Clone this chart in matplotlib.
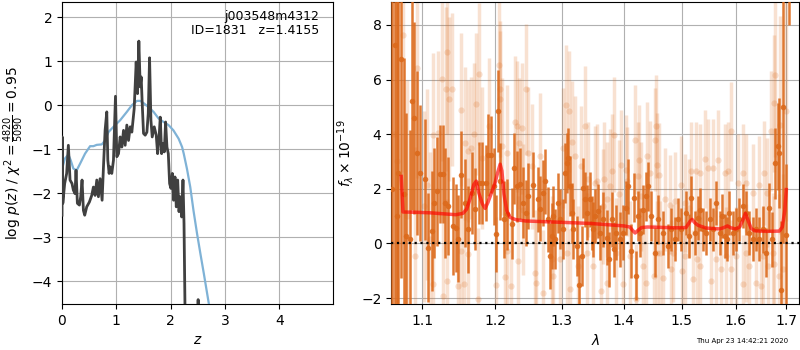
import numpy as np
import matplotlib
matplotlib.use("Agg")
import matplotlib.pyplot as plt
from matplotlib.ticker import NullLocator

# ---------------- left panel data: log p(z) ----------------
pz_z = [0.0, 0.005, 0.015, 0.049, 0.086, 0.117, 0.148, 0.184, 0.209, 0.24, 0.258,
        0.283, 0.32, 0.344, 0.369, 0.394, 0.418, 0.455, 0.504, 0.547, 0.578, 0.609,
        0.64, 0.67, 0.701, 0.738, 0.763, 0.793, 0.824, 0.843, 0.867, 0.886, 0.916,
        0.947, 0.984, 1.009, 1.04, 1.07, 1.101, 1.132, 1.162, 1.193, 1.224, 1.255,
        1.285, 1.328, 1.365, 1.39, 1.414, 1.439, 1.457, 1.476, 1.5, 1.531, 1.562,
        1.587, 1.611, 1.636, 1.66, 1.697, 1.734, 1.759, 1.783, 1.808, 1.833, 1.857,
        1.882, 1.906, 1.931, 1.956, 1.98, 2.005, 2.03, 2.054, 2.079, 2.103, 2.128,
        2.153, 2.177, 2.202, 2.226, 2.245, 2.263, 2.28, 2.40, 2.49, 2.505, 2.52]
pz_logp = [-2.5, -0.72, -2.23, -1.78, -1.55, -0.91, -1.70, -1.78, -1.93, -2.01, -1.48,
           -2.23, -2.27, -2.08, -1.70, -2.39, -2.50, -2.31, -2.20, -2.05, -1.86, -2.05,
           -1.70, -2.08, -1.67, -2.16, -1.40, -0.57, -0.15, -1.25, -1.55, -1.40, -1.55,
           -1.25, 0.205, -1.17, -1.10, -0.72, -0.95, -0.57, -0.91, -0.45, -0.80, -0.49,
           -0.61, -0.08, 0.985, 0.265, 1.46, 0.42, 0.645, 0.04, -0.64, -0.68, -0.61,
           -0.19, 1.08, -0.34, -0.72, -0.49, -0.68, -1.10, -0.80, -0.27, -1.10, -0.87,
           -1.06, -0.38, -0.95, -1.10, -1.78, -1.89, -1.55, -2.16, -1.63, -2.31, -1.70,
           -2.42, -2.08, -2.54, -1.70, -2.69, -4.6, -6.0, -7.0, -5.5, -4.42, -6.0]

prior_z = [0.0, 0.055, 0.117, 0.16, 0.209, 0.27, 0.332, 0.424, 0.517, 0.578, 0.64,
           0.732, 0.793, 0.855, 0.947, 1.07, 1.193, 1.285, 1.378, 1.44, 1.5, 1.59,
           1.685, 1.777, 1.87, 1.96, 2.05, 2.146, 2.21, 2.24, 2.30, 2.36, 2.42,
           2.485, 2.55, 2.61, 2.70, 2.80]
prior_logp = [-1.45, -1.21, -1.12, -1.25, -1.44, -1.48, -1.33, -1.10, -0.93, -0.93,
              -0.90, -0.89, -0.80, -0.61, -0.49, -0.34, -0.15, 0.0, 0.10, 0.10, 0.05,
              -0.04, -0.15, -0.30, -0.38, -0.45, -0.57, -0.76, -0.95, -1.10, -1.45,
              -1.86, -2.40, -2.92, -3.40, -3.83, -4.50, -5.20]

# ---------------- right panel data: spectrum ----------------
dark_wave = [1.0615, 1.0651, 1.0670, 1.0690, 1.0728, 1.0765, 1.0790, 1.0844, 1.0870,
             1.0896, 1.0930, 1.0974, 1.1039, 1.1080, 1.1128, 1.1160, 1.1190, 1.1239,
             1.1274, 1.1304, 1.1348, 1.1415, 1.1460, 1.1480, 1.1527, 1.1571, 1.1626,
             1.1676, 1.1721, 1.1767, 1.1822, 1.1868, 1.1904, 1.1938, 1.1984, 1.2016,
             1.2044, 1.2078, 1.2124, 1.2181, 1.2242, 1.2281, 1.2314, 1.2362, 1.2410,
             1.2458, 1.2489, 1.2563, 1.2638, 1.2663, 1.2714, 1.2739, 1.2789, 1.2815,
             1.2842, 1.2866, 1.2892, 1.2943, 1.2969, 1.3011, 1.3047, 1.3074, 1.3099,
             1.3125, 1.3152, 1.3177, 1.3230, 1.3271, 1.3309, 1.3335, 1.3362, 1.3389,
             1.3442, 1.3469, 1.3495, 1.3522, 1.3576, 1.3603, 1.3658, 1.3713, 1.3755,
             1.3795, 1.3838, 1.3877, 1.3932, 1.3987, 1.4032, 1.4071, 1.4127, 1.4166,
             1.4212, 1.4238, 1.4266, 1.4323, 1.4381, 1.4409, 1.4467, 1.4524, 1.4581,
             1.4670, 1.4757, 1.4816, 1.4876, 1.4934, 1.4995, 1.5085, 1.5132, 1.5174,
             1.5235, 1.5294, 1.5325, 1.5386, 1.5448, 1.5510, 1.5570, 1.5634, 1.5696,
             1.5746, 1.5790, 1.5840, 1.5883, 1.5947, 1.6010, 1.6060, 1.6137, 1.6203,
             1.6267, 1.6332, 1.6397, 1.6461, 1.6527, 1.6593, 1.6660, 1.6713, 1.6779,
             1.6826, 1.6860, 1.6893, 1.6930, 1.7000, 1.7060]
dark_flux = [2.0, 7.26, 1.0, 2.58, 6.74, 1.8, 0.27, 0.15, 5.22,
             4.59, 3.31, 2.58, 2.34, -0.16, 0.45, 1.48, 1.91, 2.55,
             2.55, 1.48, 1.36, 0.63, 0.57, 0.17, 2.52, 1.48, 0.51,
             1.85, 1.27, 2.21, 2.21, 2.21, 3.25, 3.25, 2.09, 0.36,
             4.85, 2.27, 0.88, 1.06, 0.72, 2.76, 2.09, 2.19, 1.48,
             1.12, 1.73, 2.15, 1.61, 1.27, 1.85, 2.27, 0.88, -0.46,
             0.27, 1.00, 0.15, 1.48, 0.88, 0.51, 2.58, 2.94, 3.13,
             2.09, 1.12, 0.51, -0.10, -1.53, -0.46, 2.03, 1.61, 1.12,
             1.61, 0.75, 0.51, 1.00, 1.18, 0.39, 0.88, 0.21, -0.58,
             0.88, -0.22, 0.39, 0.15, 0.39, 1.30, 2.09, -0.28, 1.67,
             -1.19, 1.00, 0.39, 1.24, 1.73, 2.09, 1.00, -0.34, 0.88,
             0.39, -0.10, 0.51, 0.15, 0.88, 0.51, 1.12, 0.27, 1.67,
             0.39, 0.94, 1.24, 0.51, 0.39, 0.88, 0.51, 1.48, 0.39,
             1.00, 0.27, 0.15, 1.12, 0.39, 0.51, 0.88, 1.36, 1.12,
             0.39, 0.15, 0.51, 0.15, 0.51, -0.34, 1.30, 0.15, 2.94,
             3.55, 3.31, -1.69, 5.0, 0.3, 12.0]
dark_err = [12.0, 10.0, 10.0, 9.0, 8.0, 5.0, 4.5, 4.0, 4.0,
            3.5, 3.0, 2.5, 2.2, 2.0, 2.2, 2.0, 2.0, 1.8,
            1.8, 2.0, 1.8, 1.8, 1.6, 1.6, 1.6, 1.6, 1.6,
            1.5, 1.5, 1.5, 1.5, 1.4, 1.5, 1.4, 1.4, 1.4,
            1.5, 1.4, 1.4, 1.3, 1.3, 1.3, 1.3, 1.3, 1.3,
            1.2, 1.2, 1.2, 1.2, 1.2, 1.2, 1.2, 1.2, 1.2,
            1.2, 1.1, 1.1, 1.1, 1.1, 1.1, 1.1, 1.1, 1.1,
            1.1, 1.1, 1.1, 1.1, 1.1, 1.1, 1.1, 1.0, 1.0,
            1.0, 1.0, 1.0, 1.0, 1.0, 1.0, 1.0, 1.0, 1.0,
            1.0, 1.0, 1.0, 1.0, 1.0, 1.0, 1.0, 1.0, 0.9,
            0.9, 0.9, 0.9, 0.9, 0.9, 0.9, 0.9, 0.9, 0.9,
            0.8, 0.8, 0.8, 0.8, 0.8, 0.8, 0.8, 0.8, 0.8,
            0.8, 0.8, 0.8, 0.8, 0.8, 0.8, 0.8, 0.8, 0.8,
            0.8, 0.8, 0.8, 0.8, 0.8, 0.8, 0.8, 0.8, 0.8,
            0.8, 0.8, 0.8, 0.8, 0.85, 0.9, 0.9, 1.0, 1.3,
            1.6, 2.0, 2.5, 5.0, 2.6, 4.0]

light_wave = [1.0630, 1.0680, 1.0757, 1.0800, 1.0900, 1.0931, 1.1018, 1.1062, 1.1106,
              1.1140, 1.1149, 1.1216, 1.1270, 1.1283, 1.1319, 1.1328, 1.1336, 1.1363,
              1.1395, 1.1481, 1.1518, 1.1527, 1.1560, 1.1571, 1.1617, 1.1626, 1.1661,
              1.1697, 1.1731, 1.1753, 1.1767, 1.1822, 1.1913, 1.2016, 1.2052, 1.2066,
              1.2075, 1.2098, 1.2139, 1.2168, 1.2175, 1.2229, 1.2290, 1.2314, 1.2328,
              1.2348, 1.2389, 1.2410, 1.2458, 1.2489, 1.2538, 1.2588, 1.2603, 1.2663,
              1.2714, 1.2842, 1.2866, 1.2969, 1.3020, 1.3062, 1.3074, 1.3114, 1.3125,
              1.3161, 1.3203, 1.3257, 1.3298, 1.3362, 1.3389, 1.3415, 1.3495, 1.3522,
              1.3560, 1.3630, 1.3658, 1.3669, 1.3713, 1.3722, 1.3766, 1.3805, 1.3838,
              1.3877, 1.3915, 1.3960, 1.3977, 1.4032, 1.4054, 1.4099, 1.4184, 1.4200,
              1.4238, 1.4250, 1.4297, 1.4323, 1.4381, 1.4390, 1.4438, 1.4507, 1.4524,
              1.4553, 1.4560, 1.4565, 1.4601, 1.4613, 1.4670, 1.4700, 1.4787, 1.4816,
              1.4840, 1.4876, 1.4995, 1.5000, 1.5054, 1.5060, 1.5132, 1.5174, 1.5205,
              1.5266, 1.5270, 1.5325, 1.5339, 1.5417, 1.5479, 1.5540, 1.5570, 1.5634,
              1.5665, 1.5727, 1.5790, 1.5821, 1.5852, 1.5916, 1.5920, 1.6010, 1.6043,
              1.6137, 1.6140, 1.6203, 1.6205, 1.6267, 1.6332, 1.6397, 1.6448, 1.6499,
              1.6527, 1.6560, 1.6606, 1.6626, 1.6693, 1.6726, 1.6759, 1.6762, 1.6779,
              1.6860, 1.6873, 1.6931, 1.7000]
light_flux = [4.0, 3.0, 7.63, 1.0, -0.46, 6.41, 1.36, 2.15, 0.15,
              -1.50, 3.98, 4.04, 6.01, -1.92, 5.65, -1.37, 7.00, 5.28,
              5.65, -1.56, -0.28, 4.89, -1.50, 3.67, -0.40, 3.37, 3.49,
              4.00, 5.10, -2.04, 6.19, 3.13, 4.28, -1.53, 6.53, 5.65,
              5.28, 3.55, -1.23, 3.31, -0.27, -1.56, 4.46, 4.28, -0.65,
              3.67, 4.22, 1.24, 5.65, 3.31, 2.82, -1.07, -1.44, 3.19,
              -1.80, -0.58, -1.19, -0.58, 3.49, 5.07, -0.34, 4.83, -1.68,
              3.73, 3.19, -0.83, 2.82, 4.28, -0.34, 2.34, -0.83, 2.21,
              2.27, -1.74, 1.36, 2.34, 1.61, -1.44, 2.09, 2.64, 3.98,
              -0.34, 1.79, 2.88, -1.50, 2.70, 2.27, -0.46, 3.80, -2.04,
              2.46, 3.07, 1.73, -0.83, -1.44, 3.19, 2.58, -1.19, 3.80,
              4.28, 2.88, -0.34, 2.52, -0.34, -1.25, 1.61, 1.42, -0.95,
              -0.34, 1.54, 2.15, -1.01, 1.48, -0.46, 1.30, 2.64, -1.31,
              2.64, -0.58, -0.83, 2.58, 3.09, 2.76, -1.37, 2.76, -0.58,
              3.07, -0.95, 2.58, -0.46, 2.64, 4.10, -0.95, -0.46, 2.21,
              2.58, -1.50, 2.21, -0.34, -0.83, 1.85, -1.44, 2.15, -1.56,
              -0.46, 2.58, 1.85, -0.83, 4.10, -0.34, 5.13, -0.77, 6.17,
              -1.19, 4.34, -0.95, 4.83]
light_err = [10.0, 10.0, 5.0, 5.0, 4.0, 4.0, 3.5, 3.5, 3.2,
             3.0, 3.0, 3.0, 3.0, 3.0, 3.0, 3.0, 3.0, 3.0,
             2.8, 2.8, 2.8, 2.8, 2.8, 2.8, 2.8, 2.6, 2.6,
             2.6, 2.6, 2.6, 2.6, 2.6, 2.5, 2.5, 2.5, 2.5,
             2.5, 2.5, 2.5, 2.5, 2.5, 2.4, 2.4, 2.4, 2.4,
             2.4, 2.4, 2.4, 2.4, 2.4, 2.3, 2.3, 2.3, 2.3,
             2.3, 2.3, 2.3, 2.2, 2.2, 2.2, 2.2, 2.2, 2.2,
             2.2, 2.2, 2.2, 2.2, 2.2, 2.2, 2.1, 2.1, 2.1,
             2.1, 2.1, 2.1, 2.1, 2.1, 2.1, 2.1, 2.1, 2.1,
             2.0, 2.0, 2.0, 2.0, 2.0, 2.0, 2.0, 2.0, 2.0,
             2.0, 2.0, 2.0, 2.0, 2.0, 2.0, 1.9, 1.9, 1.9,
             1.9, 1.9, 1.9, 1.9, 1.9, 1.9, 1.9, 1.8, 1.8,
             1.8, 1.8, 1.8, 1.8, 1.8, 1.8, 1.8, 1.8, 1.8,
             1.8, 1.8, 1.8, 1.8, 1.8, 1.8, 1.8, 1.8, 1.8,
             1.8, 1.8, 1.8, 1.8, 1.8, 1.8, 1.8, 1.8, 1.8,
             1.8, 1.8, 1.8, 1.8, 1.8, 1.8, 1.8, 1.8, 1.8,
             1.8, 1.9, 2.0, 2.0, 2.2, 2.2, 2.5, 2.5, 3.0,
             3.0, 4.0, 3.5, 4.0]

model_wave = [1.0728, 1.0750, 1.09, 1.11, 1.13, 1.145, 1.155, 1.160, 1.165, 1.170,
              1.1735, 1.177, 1.182, 1.186, 1.190, 1.195, 1.200, 1.204, 1.2075, 1.210,
              1.213, 1.217, 1.222, 1.23, 1.245, 1.29, 1.345, 1.40, 1.41, 1.4145, 1.419,
              1.424, 1.430, 1.44, 1.49, 1.508, 1.515, 1.519, 1.524, 1.53, 1.545, 1.57,
              1.578, 1.5845, 1.591, 1.60, 1.608, 1.614, 1.619, 1.624, 1.630, 1.637,
              1.66, 1.686, 1.692, 1.697, 1.700]
model_flux = [2.45, 1.15, 1.14, 1.12, 1.08, 1.05, 1.10, 1.25, 1.65, 2.15,
              2.28, 1.85, 1.45, 1.28, 1.50, 1.85, 2.20, 2.60, 2.90, 2.65,
              1.80, 1.20, 0.95, 0.87, 0.82, 0.78, 0.73, 0.64, 0.60, 0.48, 0.38,
              0.48, 0.58, 0.60, 0.57, 0.58, 0.80, 0.88, 0.75, 0.66, 0.56, 0.53,
              0.58, 0.64, 0.57, 0.53, 0.60, 0.85, 1.10, 0.85, 0.55, 0.46,
              0.44, 0.45, 0.60, 1.2, 1.97]

lam_ticks = [1.1, 1.2, 1.3, 1.4, 1.5, 1.6, 1.7]
lam_labels = ['1.1', '1.2', '1.3', '1.4', '1.5', '1.6', '1.7']

# ---------------- figure ----------------
fig = plt.figure(figsize=(8, 3.5), dpi=100)
ax1 = fig.add_axes([0.0775, 0.1314, 0.339, 0.863])
ax2 = fig.add_axes([0.489, 0.1314, 0.510, 0.863])

ax1.plot(prior_z, prior_logp, color='#7fb2d6', lw=1.6, zorder=3)
ax1.plot(pz_z, pz_logp, color='0.25', lw=2.0, zorder=4)
ax1.set_xlim(0, 4.99)
ax1.set_ylim(-4.52, 2.35)
ax1.set_xticks([0, 1, 2, 3, 4])
ax1.set_yticks([-4, -3, -2, -1, 0, 1, 2])
ax1.grid(True, color='#b0b0b0', lw=0.8)
ax1.set_axisbelow(True)
ax1.set_xlabel('$z$')
ax1.set_ylabel(r'log $p(z)$ / $\chi^2=\frac{4820}{5090}=0.95$')
ax1.text(0.95, 0.975, 'j003548m4312\nID=1831   z=1.4155', transform=ax1.transAxes,
         ha='right', va='top', fontsize=9, linespacing=1.15)

col = '#dc6a1c'
ax2.errorbar(light_wave, light_flux, yerr=light_err, fmt='o', color=col, alpha=0.2,
             ms=4.5, elinewidth=2.5, capsize=0, mec='none', zorder=2)
ax2.errorbar(dark_wave, dark_flux, yerr=dark_err, fmt='o', color=col, alpha=0.9,
             ms=4, elinewidth=1.8, capsize=0, mec='none', zorder=3)
ax2.plot(model_wave, model_flux, color='red', alpha=0.65, lw=2.5, zorder=4)
ax2.axhline(0, color='k', ls=':', lw=1.6, zorder=5)
ax2.set_xscale('log')
ax2.set_xlim(1.060, 1.7265)
ax2.set_ylim(-2.22, 8.84)
ax2.set_xticks(lam_ticks)
ax2.set_xticklabels(lam_labels)
ax2.xaxis.set_minor_locator(NullLocator())
ax2.set_yticks([-2, 0, 2, 4, 6, 8])
ax2.grid(True, color='#b0b0b0', lw=0.8)
ax2.set_axisbelow(True)
ax2.set_xlabel(r'$\lambda$')
ax2.set_ylabel(r'$f_\lambda \times 10^{-19}$')

fig.text(0.985, 0.018, 'Thu Apr 23 14:42:21 2020', ha='right', va='bottom', fontsize=5)

fig.savefig('out.png', dpi=100)
